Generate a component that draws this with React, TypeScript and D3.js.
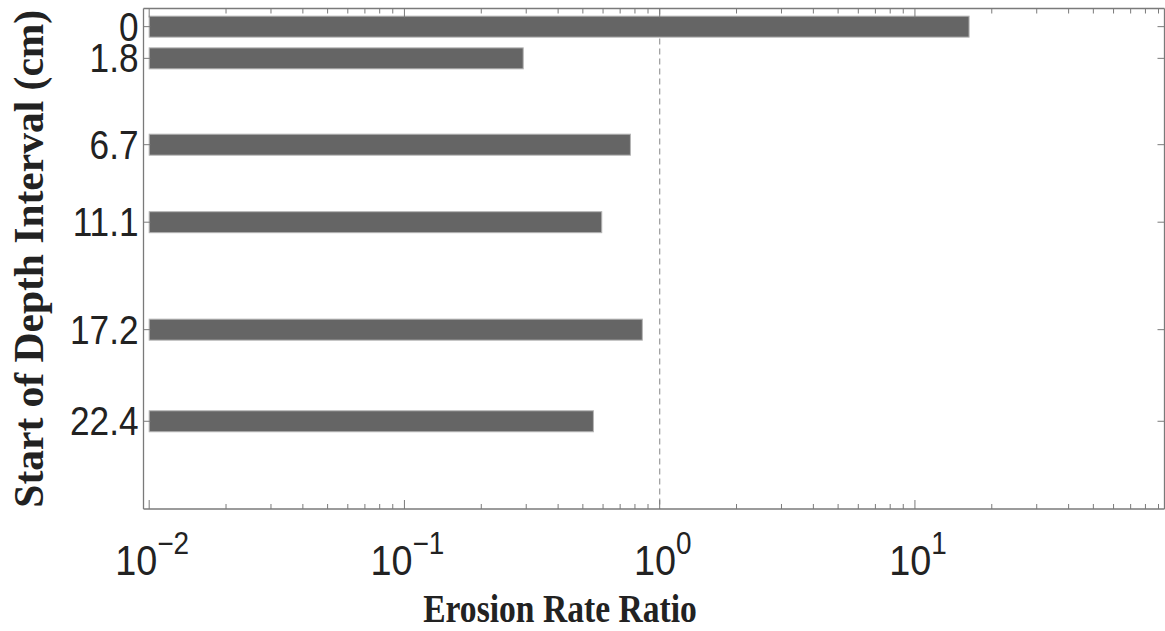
import React from "react";
import * as d3 from "d3";

const depths = [0, 1.8, 6.7, 11.1, 17.2, 22.4];
const depthLabels = ["0", "1.8", "6.7", "11.1", "17.2", "22.4"];
const ratios = [16.3, 0.292, 0.768, 0.593, 0.855, 0.55];
const xTickExps = [-2, -1, 0, 1];
const xDomain = [0.0095, 95];
const yDomain = [-1.03, 27.38];
const xTitle = "Erosion Rate Ratio";
const yTitle = "Start of Depth Interval (cm)";

const W = 1165;
const H = 631;
const left = 143.5;
const right = 1164.5;
const top = 8.5;
const bottom = 509;

export default function App() {
  const x = d3.scaleLog().domain(xDomain).range([left, right]);
  const y = d3.scaleLinear().domain(yDomain).range([top, bottom]);
  const barH = 21;
  const base = 0.01;
  const axisColor = "#7a7a7a";

  const minorTicks: number[] = [];
  for (let e = -2; e <= 1; e++) {
    for (let m = 1; m <= 9; m++) {
      const v = m * Math.pow(10, e);
      if (v >= xDomain[0] && v <= xDomain[1]) minorTicks.push(v);
    }
  }
  const majorLen = 9;
  const minorLen = 5;
  const yTickLen = 7;

  return (
    <svg width={W} height={H} style={{ position: "absolute", left: 0, top: 0, background: "#fff" }}>
      <rect x={0} y={0} width={W} height={H} fill="#fff" />
      <line x1={x(1)} x2={x(1)} y1={top} y2={bottom} stroke="#9a9a9a" strokeWidth={1.2} strokeDasharray="6,4" />
      {depths.map((d, i) => (
        <rect
          key={i}
          x={x(base)}
          y={y(d) - barH / 2}
          width={x(ratios[i]) - x(base)}
          height={barH}
          fill="#656565"
          stroke="#b5b5b5"
          strokeWidth={1}
        />
      ))}
      <line x1={left} x2={left} y1={top} y2={bottom} stroke={axisColor} strokeWidth={1.3} />
      <line x1={left} x2={right} y1={bottom} y2={bottom} stroke={axisColor} strokeWidth={1.3} />
      <line x1={left} x2={right} y1={top} y2={top} stroke={axisColor} strokeWidth={1.3} />
      <line x1={right} x2={right} y1={top} y2={bottom} stroke={axisColor} strokeWidth={1.3} />
      {minorTicks.map((v, i) => {
        const isMajor = Math.abs(Math.log10(v) - Math.round(Math.log10(v))) < 1e-9;
        const len = isMajor ? majorLen : minorLen;
        return (
          <g key={i}>
            <line x1={x(v)} x2={x(v)} y1={bottom} y2={bottom - len} stroke={axisColor} strokeWidth={1} />
            <line x1={x(v)} x2={x(v)} y1={top} y2={top + len} stroke={axisColor} strokeWidth={1} />
          </g>
        );
      })}
      {depths.map((d, i) => (
        <g key={i}>
          <line x1={left} x2={left + yTickLen} y1={y(d)} y2={y(d)} stroke={axisColor} strokeWidth={1} />
          <line x1={right} x2={right - yTickLen} y1={y(d)} y2={y(d)} stroke={axisColor} strokeWidth={1} />
        </g>
      ))}
      {depths.map((d, i) => (
        <text
          key={i}
          transform={`translate(${left - 5},${y(d) + 14}) scale(0.88,1)`}
          textAnchor="end"
          fontFamily="'Liberation Sans', Arial, sans-serif"
          fontSize={40}
          fill="#222"
        >
          {depthLabels[i]}
        </text>
      ))}
      {xTickExps.map((e, i) => (
        <text
          key={i}
          transform={`translate(${x(Math.pow(10, e)) + 3},${575}) scale(0.9,1)`}
          textAnchor="middle"
          fontFamily="'Liberation Sans', Arial, sans-serif"
          fontSize={42}
          fill="#222"
        >
          10
          <tspan dy={-21} fontSize={31}>{String(e).replace("-", "\u2212")}</tspan>
        </text>
      ))}
      <text
        transform={`translate(${560},${622}) scale(0.84,1)`}
        textAnchor="middle"
        fontFamily="'Liberation Serif', 'Times New Roman', serif"
        fontWeight="bold"
        fontSize={40}
        fill="#222"
      >
        {xTitle}
      </text>
      <text
        transform={`translate(${43},${(top + bottom) / 2}) rotate(-90)`}
        textAnchor="middle"
        fontFamily="'Liberation Serif', 'Times New Roman', serif"
        fontWeight="bold"
        fontSize={41.5}
        fill="#222"
      >
        {yTitle}
      </text>
    </svg>
  );
}
